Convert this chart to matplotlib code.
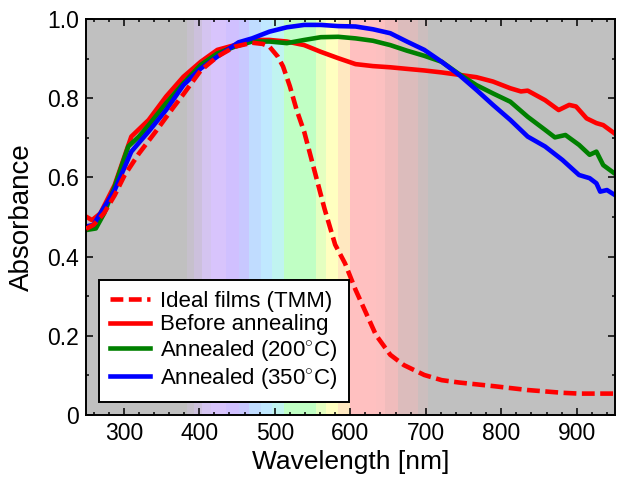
import numpy as np
import matplotlib
matplotlib.use('Agg')
import matplotlib.pyplot as plt
from matplotlib.ticker import MultipleLocator

plt.rcParams['font.family'] = ['Liberation Sans', 'DejaVu Sans']
plt.rcParams['mathtext.fontset'] = 'custom'
plt.rcParams['mathtext.rm'] = 'Liberation Sans'

# Ideal films, transfer-matrix calculation
wl_tmm = [250, 260, 274, 288, 301, 320, 342, 365, 379, 402, 424, 447, 470, 484,
          493, 504, 511, 520, 529, 539, 548, 557, 566, 580, 593, 607, 621, 634,
          653, 671, 698, 721, 744, 789, 835, 881, 903, 950]
abs_tmm = [0.47, 0.48, 0.51, 0.555, 0.605, 0.66, 0.715, 0.775, 0.81, 0.87, 0.905,
           0.93, 0.94, 0.937, 0.93, 0.905, 0.88, 0.83, 0.77, 0.715, 0.65, 0.585,
           0.52, 0.43, 0.383, 0.316, 0.257, 0.202, 0.152, 0.126, 0.101, 0.088,
           0.082, 0.073, 0.063, 0.056, 0.054, 0.054]

# Measured films
wl_meas = [250, 258, 269, 288, 310, 333, 356, 379, 402, 424, 447, 470, 493, 516,
           539, 561, 584, 607, 630, 653, 675, 698, 721, 744, 767, 789, 812, 826,
           835, 858, 876, 890, 899, 913, 926, 935, 950]
abs_before = [0.501, 0.492, 0.509, 0.581, 0.703, 0.745, 0.804, 0.854, 0.892, 0.922,
              0.934, 0.947, 0.947, 0.943, 0.934, 0.917, 0.901, 0.886, 0.881, 0.878,
              0.874, 0.870, 0.865, 0.859, 0.853, 0.842, 0.825, 0.817, 0.819, 0.795,
              0.770, 0.783, 0.779, 0.749, 0.737, 0.732, 0.711]

wl_200 = [250, 263, 274, 288, 306, 320, 333, 356, 379, 402, 424, 447, 470, 493,
          516, 539, 561, 584, 607, 630, 653, 675, 698, 721, 744, 767, 789, 812,
          835, 858, 871, 885, 903, 917, 926, 935, 950]
abs_200 = [0.467, 0.471, 0.509, 0.577, 0.678, 0.703, 0.732, 0.787, 0.838, 0.884,
           0.913, 0.930, 0.943, 0.943, 0.939, 0.947, 0.954, 0.955, 0.951, 0.945,
           0.934, 0.920, 0.907, 0.892, 0.861, 0.833, 0.812, 0.791, 0.753, 0.720,
           0.701, 0.707, 0.682, 0.657, 0.665, 0.631, 0.610]

wl_350 = [250, 260, 269, 288, 310, 333, 356, 379, 402, 424, 452, 470, 493, 516,
          539, 561, 584, 607, 630, 653, 675, 698, 721, 744, 767, 789, 812, 835,
          858, 881, 903, 917, 926, 931, 940, 950]
abs_350 = [0.476, 0.48, 0.509, 0.568, 0.665, 0.716, 0.770, 0.833, 0.875, 0.905,
           0.941, 0.951, 0.968, 0.979, 0.985, 0.985, 0.982, 0.981, 0.974, 0.964,
           0.943, 0.922, 0.892, 0.859, 0.821, 0.783, 0.745, 0.703, 0.678, 0.644,
           0.606, 0.598, 0.585, 0.564, 0.568, 0.556]

# Visible-spectrum shading (band edges in nm and fill colours)
band_edges = [384, 393, 404, 416, 435, 453, 466, 482, 496, 512, 554, 568, 584,
              600, 634, 646, 663, 690, 703]
band_colors = ['#c6c0cc', '#ccc0dc', '#d4c4f0', '#d8c4fc', '#d0c0ff', '#c8c8ff',
               '#c0dcff', '#c0e8ff', '#c0f4f0', '#c0ffc4', '#e4ffc0', '#ffffc0',
               '#ffe8c0', '#ffc0c0', '#fcc0c0', '#f0bcbc', '#dcbcbc', '#ccbebe']

fig = plt.figure(figsize=(6.17, 4.84), dpi=100)
ax = fig.add_axes([0.1394, 0.1426, 0.8566, 0.8182])
ax.set_facecolor('#c0c0c0')

for lo, hi, c in zip(band_edges[:-1], band_edges[1:], band_colors):
    ax.axvspan(lo, hi, color=c, lw=0, zorder=0)

ax.plot(wl_tmm, abs_tmm, color='#ff0000', lw=3.3, ls=(0, (2.8, 1.2)),
        label='Ideal films (TMM)', zorder=3)
ax.plot(wl_meas, abs_before, color='#ff0000', lw=3.3, label='Before annealing', zorder=2)
ax.plot(wl_200, abs_200, color='#008000', lw=3.3, label=r'Annealed (200$^{\circ}$C)', zorder=2)
ax.plot(wl_350, abs_350, color='#0000ff', lw=3.3, label=r'Annealed (350$^{\circ}$C)', zorder=2)

ax.set_xlim(250, 950)
ax.set_ylim(0, 1.0)
ax.xaxis.set_minor_locator(MultipleLocator(20))
ax.yaxis.set_minor_locator(MultipleLocator(0.1))
ax.set_yticks([0, 0.2, 0.4, 0.6, 0.8, 1.0])
ax.set_yticklabels(['0', '0.2', '0.4', '0.6', '0.8', '1.0'])
ax.set_xticks([300, 400, 500, 600, 700, 800, 900])

ax.tick_params(which='both', direction='in', top=True, right=True, width=1.1,
               labelsize=16.5)
ax.tick_params(which='major', length=5, pad=5)
ax.tick_params(which='minor', length=2.5)
for s in ax.spines.values():
    s.set_linewidth(1.4)

ax.set_xlabel('Wavelength [nm]', fontsize=19, labelpad=4)
ax.set_ylabel('Absorbance', fontsize=20, labelpad=9)

leg = ax.legend(loc='lower left', bbox_to_anchor=(0.0246, 0.033), borderaxespad=0,
                fontsize=16, frameon=True, fancybox=False, framealpha=1,
                edgecolor='black', handlelength=1.8, handletextpad=0.45,
                labelspacing=0.12, borderpad=0.5)
leg.get_frame().set_linewidth(1.4)

fig.savefig('out.png', dpi=100)
